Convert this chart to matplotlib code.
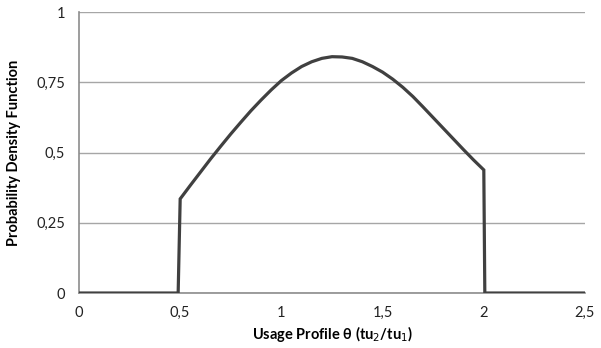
import matplotlib
matplotlib.use("Agg")
import matplotlib.pyplot as plt

theta = [0.0, 0.49, 0.50, 0.55, 0.60, 0.65, 0.70, 0.75, 0.80, 0.85, 0.90, 0.95,
         1.00, 1.05, 1.10, 1.15, 1.20, 1.25, 1.30, 1.35, 1.40, 1.45, 1.50, 1.55,
         1.60, 1.65, 1.70, 1.75, 1.80, 1.85, 1.90, 1.95, 2.00, 2.005, 2.5]
pdf = [0.0, 0.0, 0.335, 0.383, 0.430, 0.477, 0.522, 0.566, 0.608, 0.649, 0.687, 0.723,
       0.756, 0.783, 0.806, 0.823, 0.835, 0.841, 0.840, 0.835, 0.823, 0.806, 0.786, 0.761,
       0.732, 0.699, 0.662, 0.624, 0.586, 0.548, 0.510, 0.473, 0.438, 0.0, 0.0]

xticks = [0, 0.5, 1, 1.5, 2, 2.5]
xticklabels = ["0", "0,5", "1", "1,5", "2", "2,5"]
yticks = [0, 0.25, 0.5, 0.75, 1]
yticklabels = ["0", "0,25", "0,5", "0,75", "1"]

plt.rcParams['font.family'] = ['Lato', 'DejaVu Sans']

fig = plt.figure(figsize=(6.01, 3.48), dpi=100)
ax = fig.add_axes([0.1314, 0.158, 0.842, 0.8075])

ax.plot(theta, pdf, color="#404040", linewidth=2.3, solid_joinstyle="miter", zorder=3)

ax.set_xlim(0, 2.5)
ax.set_ylim(0, 1)
ax.set_xticks(xticks)
ax.set_xticklabels(xticklabels, fontsize=10.5, color="#222222")
ax.set_yticks(yticks)
ax.set_yticklabels(yticklabels, fontsize=10.5, color="#222222")
ax.tick_params(length=0, pad=9)
ax.tick_params(axis='y', pad=10)

ax.yaxis.grid(True, color="#a6a6a6", linewidth=1.0)
ax.set_axisbelow(True)
for s in ["top", "right"]:
    ax.spines[s].set_visible(False)
for s in ["left", "bottom"]:
    ax.spines[s].set_color("#8c8c8c")
    ax.spines[s].set_linewidth(1.2)

ax.set_xlabel("Usage Profile θ (tu$_2$/tu$_1$)", fontsize=10.5, fontweight="bold", labelpad=3)
ax.set_ylabel("Probability Density Function", fontsize=10.5, fontweight="bold", labelpad=11)

fig.savefig("out.png", dpi=100)
